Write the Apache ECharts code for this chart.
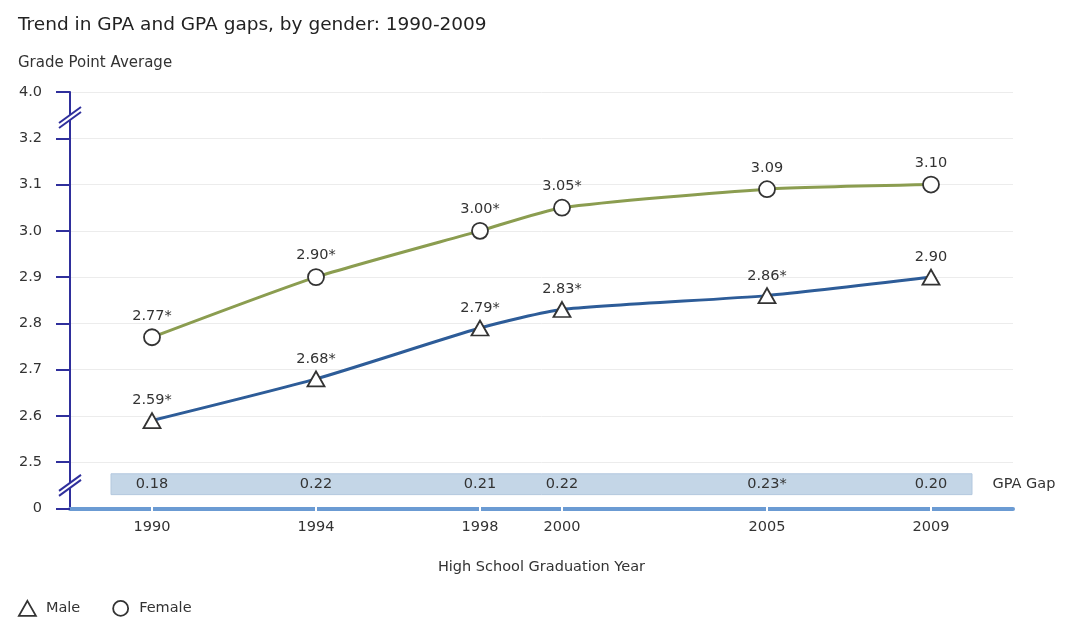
<!DOCTYPE html>
<html>
<head>
<meta charset="utf-8">
<script src="https://cdn.jsdelivr.net/npm/echarts@6/dist/echarts.min.js"></script>
<style>html,body{margin:0;padding:0;background:#fff}#c{width:1080px;height:623px}</style>
</head>
<body>
<div id="c"></div>
<script>
const years = [1990, 1994, 1998, 2000, 2005, 2009];
const maleGPA = [2.59, 2.68, 2.79, 2.83, 2.86, 2.90];
const femaleGPA = [2.77, 2.90, 3.00, 3.05, 3.09, 3.10];
const maleLabels = ['2.59*', '2.68*', '2.79*', '2.83*', '2.86*', '2.90'];
const femaleLabels = ['2.77*', '2.90*', '3.00*', '3.05*', '3.09', '3.10'];
const gapLabels = ['0.18', '0.22', '0.21', '0.22', '0.23*', '0.20'];
// axis is broken: bottom tick stands for 0, top tick stands for 4.0
const yTickLabels = { '2.4': '0', '3.3': '4.0' };

const FONT = 'DejaVu Sans';
const FS = 14.5;
const GAP_ROW = 2.452;
const BAND = [[1989, 2.43], [2010, 2.475]];
const BREAKS = [3.245, 2.45];
const AXIS_NAVY = '#2f2f9c';

const chart = echarts.init(document.getElementById('c'), null, { renderer: 'canvas' });

const option = {
  animation: false,
  backgroundColor: '#fff',
  textStyle: { fontFamily: FONT },
  title: [
    { text: 'Trend in GPA and GPA gaps, by gender: 1990-2009', left: 13, top: 11,
      textStyle: { fontFamily: FONT, fontSize: 18.5, fontWeight: 'normal', color: '#222' } },
    { text: 'Grade Point Average', left: 13, top: 51,
      textStyle: { fontFamily: FONT, fontSize: 15, fontWeight: 'normal', color: '#333' } }
  ],
  legend: {
    left: 13, top: 595, itemWidth: 17, itemHeight: 15, itemGap: 32,
    textStyle: { fontFamily: FONT, fontSize: FS, color: '#333', padding: [0, 0, 0, 5] },
    itemStyle: { color: '#fff', borderColor: '#333', borderWidth: 1.8 },
    data: [{ name: 'Male', icon: 'triangle' }, { name: 'Female', icon: 'circle' }]
  },
  grid: { left: 70, right: 67, top: 92, bottom: 114.5 },
  xAxis: [
    {
      type: 'value', min: 1988, max: 2011,
      name: 'High School Graduation Year', nameLocation: 'middle', nameGap: 51,
      nameTextStyle: { fontFamily: FONT, fontSize: FS, color: '#333' },
      axisLine: { show: true, lineStyle: { color: '#6b9bd3', width: 4 } },
      axisTick: { show: true, inside: true, length: 4, customValues: years, lineStyle: { color: '#fff', width: 2 } },
      axisLabel: { show: true, customValues: years, margin: 11, fontFamily: FONT, fontSize: FS, color: '#333', formatter: v => String(v) },
      splitLine: { show: false }
    },
    {
      type: 'value', min: 1988, max: 2011, position: 'bottom',
      axisLine: { show: false },
      axisTick: { show: true, inside: false, length: 4, customValues: years, lineStyle: { color: '#fff', width: 2 } },
      axisLabel: { show: false },
      splitLine: { show: false }
    }
  ],
  yAxis: {
    type: 'value', min: 2.4, max: 3.3, interval: 0.1,
    axisLine: { show: true, lineStyle: { color: AXIS_NAVY, width: 2 } },
    axisTick: { show: true, length: 14, lineStyle: { color: AXIS_NAVY, width: 2 } },
    axisLabel: {
      margin: 28, fontFamily: FONT, fontSize: FS, color: '#333',
      formatter: v => { const k = (Math.round(v * 10) / 10).toFixed(1); return yTickLabels[k] !== undefined ? yTickLabels[k] : k; }
    },
    splitLine: { show: true, lineStyle: { color: '#ececec', width: 1 } }
  },
  series: [
    {
      name: 'GPA Gap band', type: 'scatter', symbol: 'none', data: [], z: 1, silent: true,
      markArea: {
        silent: true,
        itemStyle: { color: '#c4d6e7', borderColor: '#b3c8de', borderWidth: 1, opacity: 1 },
        label: { show: true, position: 'right', distance: 20, formatter: 'GPA Gap',
          fontFamily: FONT, fontSize: FS, color: '#333' },
        data: [[{ coord: BAND[0] }, { coord: BAND[1] }]]
      }
    },
    {
      name: 'Female', type: 'line', smooth: 0.2,
      data: years.map((y, i) => [y, femaleGPA[i]]),
      lineStyle: { color: '#8b9d50', width: 3 },
      itemStyle: { color: '#fff', borderColor: '#333', borderWidth: 1.8 },
      symbol: 'circle', symbolSize: 16, z: 3,
      label: { show: true, position: 'top', distance: 5, fontFamily: FONT, fontSize: FS, color: '#333',
        formatter: p => femaleLabels[p.dataIndex] }
    },
    {
      name: 'Male', type: 'line', smooth: 0.2,
      data: years.map((y, i) => [y, maleGPA[i]]),
      lineStyle: { color: '#2d5c98', width: 3 },
      itemStyle: { color: '#fff', borderColor: '#333', borderWidth: 1.8 },
      symbol: 'triangle', symbolSize: [17, 15], z: 3,
      label: { show: true, position: 'top', distance: 4, fontFamily: FONT, fontSize: FS, color: '#333',
        formatter: p => maleLabels[p.dataIndex] }
    },
    {
      name: 'GPA Gap', type: 'scatter', symbol: 'rect', symbolSize: 1, z: 6, silent: true,
      itemStyle: { color: 'rgba(0,0,0,0)' },
      data: years.map(y => [y, GAP_ROW]),
      label: { show: true, position: 'inside', fontFamily: FONT, fontSize: FS, color: '#333', opacity: 1,
        formatter: p => gapLabels[p.dataIndex] },
      emphasis: { disabled: true }
    }
  ]
};
chart.setOption(option);

// axis-break marks on the y axis, placed through the axis scale
const elems = [];
BREAKS.forEach(v => {
  const p = chart.convertToPixel({ xAxisIndex: 0, yAxisIndex: 0 }, [1988, v]);
  const x = p[0], y = p[1];
  const dx = 11, dy = 8, s = 2.5;
  elems.push({ type: 'polygon', z: 100, silent: true,
    shape: { points: [[x - dx, y + dy - s], [x + dx, y - dy - s], [x + dx, y - dy + s], [x - dx, y + dy + s]] },
    style: { fill: '#fff' } });
  [-s, s].forEach(o => elems.push({ type: 'line', z: 101, silent: true,
    shape: { x1: x - dx, y1: y + dy + o, x2: x + dx, y2: y - dy + o },
    style: { stroke: AXIS_NAVY, lineWidth: 2 } }));
});
chart.setOption({ graphic: elems });
</script>
</body>
</html>
